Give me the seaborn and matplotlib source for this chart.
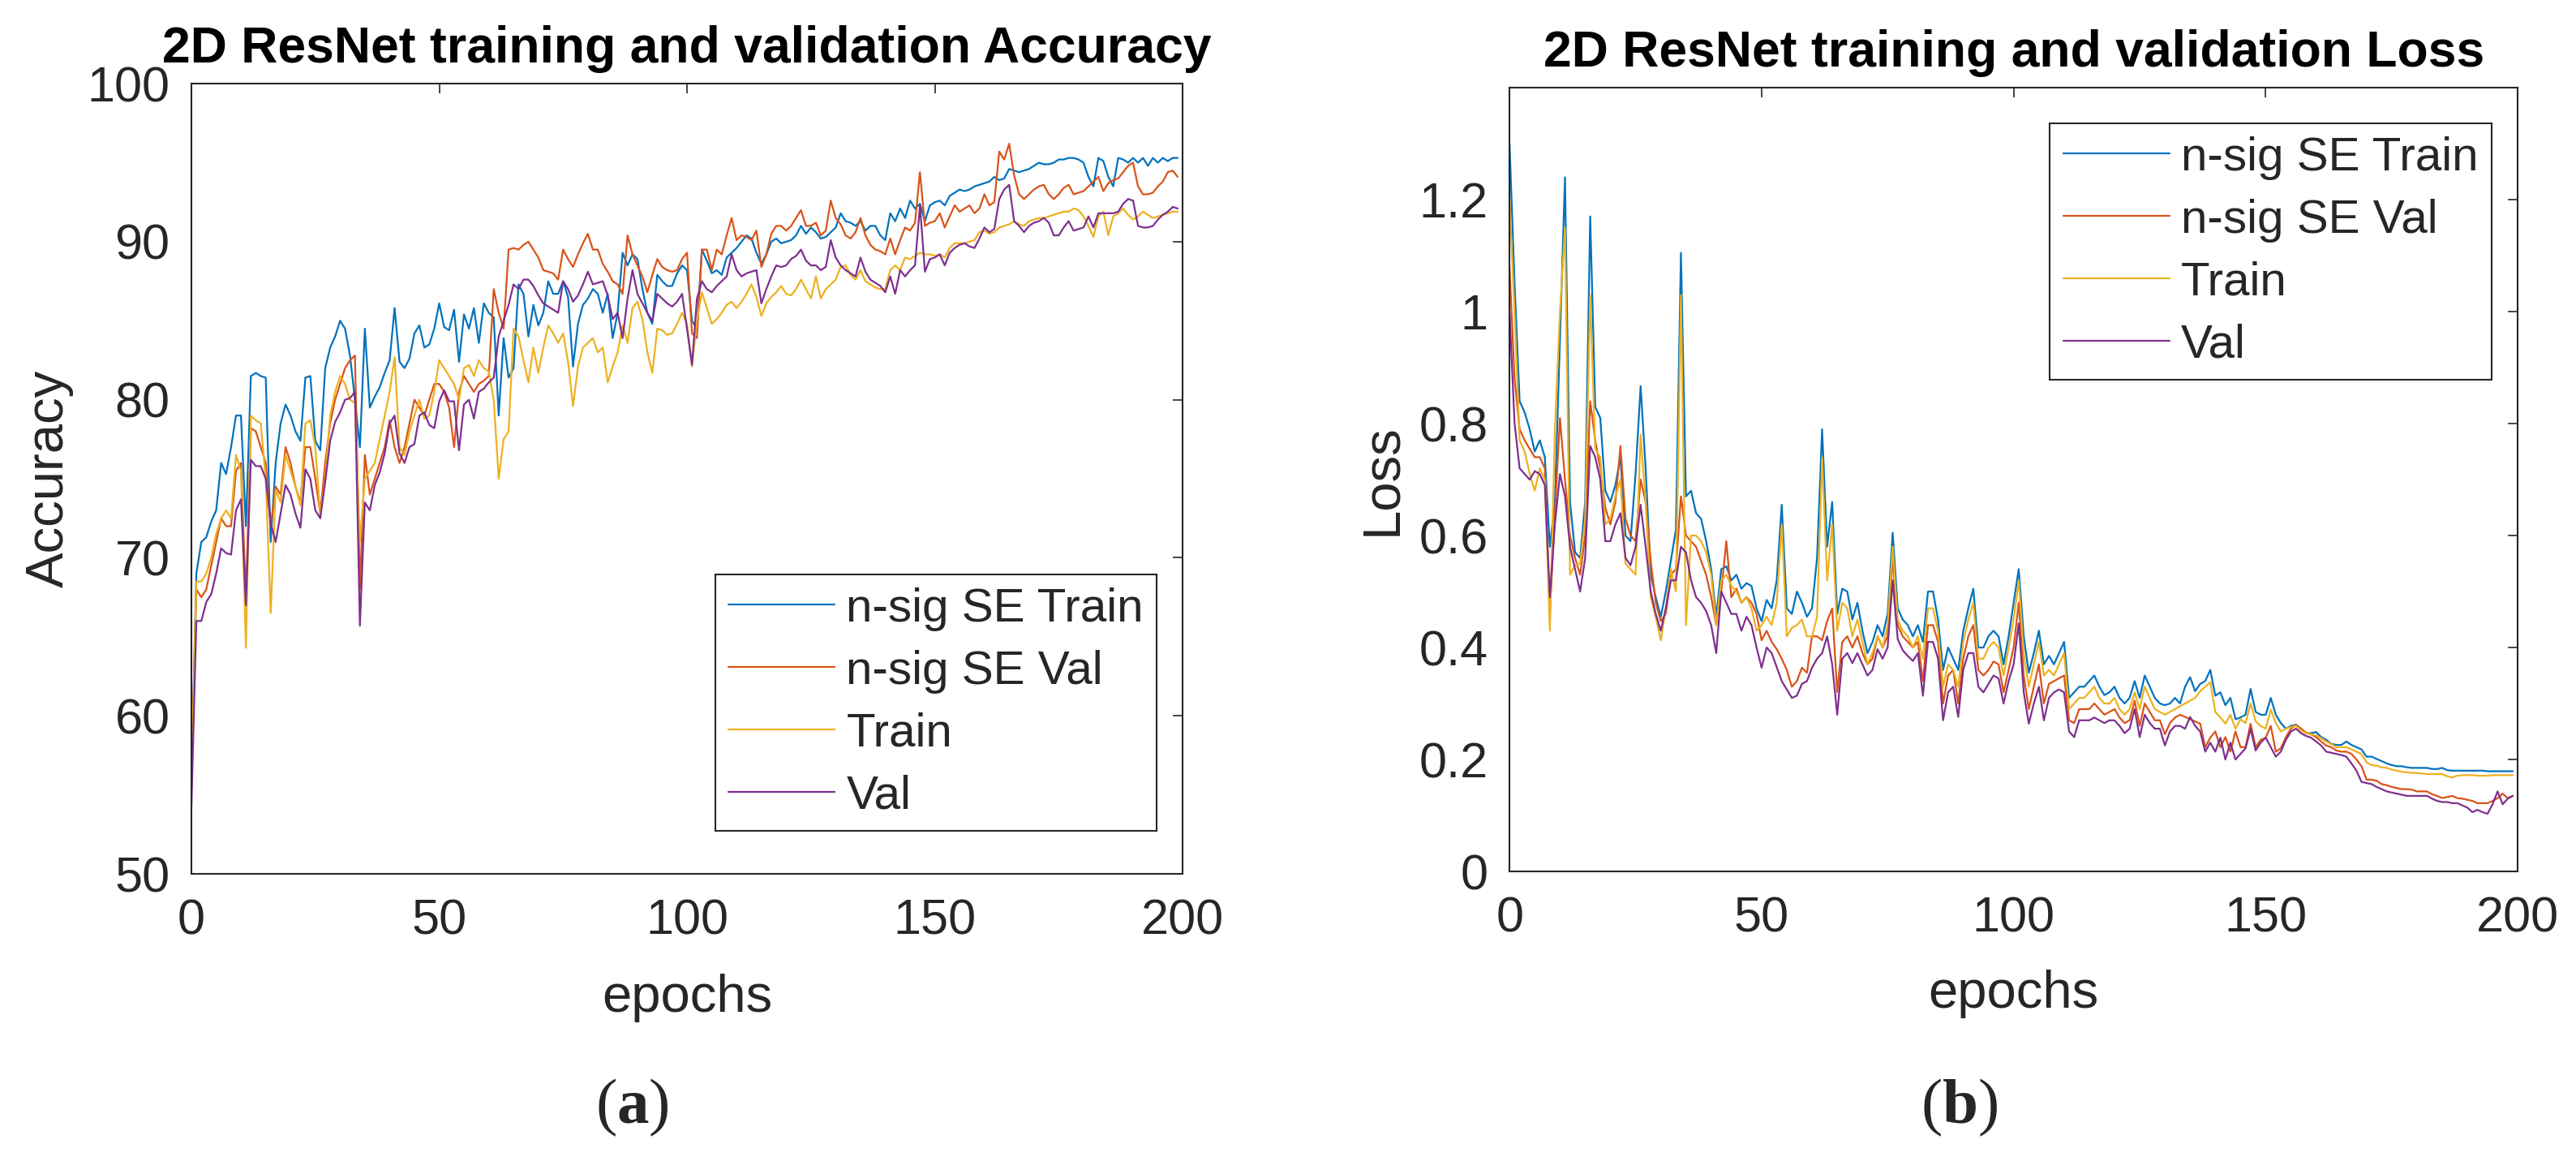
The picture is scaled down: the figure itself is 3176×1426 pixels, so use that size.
import numpy as np
import pandas as pd
import matplotlib
matplotlib.use("Agg")
import matplotlib.pyplot as plt
import seaborn as sns

series_names = ["n-sig SE Train", "n-sig SE Val", "Train", "Val"]
series_colors = ["#0072BD", "#D95319", "#EDB120", "#7E2F8E"]
epochs = np.arange(200)

# accuracy curves, one value per epoch
acc_nse_train = [
    56, 69, 71, 71.3, 72.3, 73, 76, 75.3, 77, 79,
    79, 72, 81.5, 81.7, 81.5, 81.4, 71, 76, 78.5, 79.7,
    79, 78, 77.4, 81.4, 81.5, 77.4, 76.8, 82, 83.3, 84,
    85, 84.5, 82.8, 80, 77, 84.5, 79.5, 80.2, 80.8, 81.7,
    82.5, 85.8, 82.4, 82, 82.6, 84.2, 84.7, 83.3, 83.5, 84.5,
    86.1, 84.6, 84.4, 85.7, 82.4, 85.4, 84.5, 85.8, 83.6, 86.1,
    85.5, 85.2, 79, 83.9, 81.4, 82, 87.3, 86.7, 84, 86,
    84.7, 85.5, 87.5, 86.7, 86.7, 87.5, 86.5, 82.1, 84.8, 86,
    86.4, 87, 86.7, 85.5, 86.7, 83.9, 85.5, 89.3, 88.5, 89.2,
    88.9, 87, 85.5, 84.8, 87.9, 87.5, 87.2, 87.2, 88, 88.5,
    88.2, 85, 84.5, 89.5, 88.8, 88, 88.2, 87.9, 89, 89.3,
    89.6, 90, 90.4, 90.2, 89.3, 88.6, 89.2, 90, 90.2, 89.9,
    90, 90.1, 90.4, 91, 90.5, 90.9, 90.6, 90.2, 90.3, 90.6,
    90.9, 91.8, 91.3, 91.2, 91, 91.3, 90.7, 91, 91, 90.4,
    90.1, 91.8, 91.3, 92.1, 91.5, 92.6, 92.1, 92.4, 91.3, 92.3,
    92.5, 92.6, 92.3, 92.9, 93.1, 93.3, 93.2, 93.3, 93.5, 93.6,
    93.7, 93.8, 94.1, 93.9, 94, 94.6, 94.5, 94.4, 94.5, 94.6,
    94.8, 95, 94.9, 94.9, 95, 95.2, 95.2, 95.3, 95.3, 95.2,
    95, 94.1, 93.5, 95.3, 95.1, 94.1, 93.5, 95.3, 95.2, 95,
    95.3, 95, 95.3, 94.8, 95.3, 95, 95.3, 95.1, 95.3, 95.3,
]
acc_nse_val = [
    55.5, 68, 67.5, 68, 69.5, 71, 72.5, 72, 72, 75.5,
    76, 67.5, 78.2, 78, 77, 76, 72, 74.5, 74, 77,
    76, 74.5, 73.5, 77, 77, 75, 72.8, 76, 78.5, 80,
    81, 82, 82.5, 82.8, 68, 76.5, 74, 75, 76, 77,
    78.7, 77, 76, 77, 78.5, 80, 79.5, 79, 80, 81,
    81, 80.5, 79.5, 77, 80.5, 81.5, 81, 80.5, 81, 81.2,
    81.5, 87, 85.5, 84.5, 89.5, 89.6, 89.5, 89.8, 90, 89.5,
    89, 88.2, 88.1, 88, 87.6, 89.5, 88.9, 88.4, 89.2, 89.9,
    90.5, 89.5, 89.5, 88.6, 88.1, 87.5, 87.3, 86.7, 90.4, 89.2,
    88.5, 87.8, 86.8, 87.9, 88.9, 88.4, 88.2, 88.1, 88.2, 88.9,
    89.3, 84.2, 83.9, 89.5, 89.5, 88.2, 89.5, 89.2, 90.4, 91.5,
    90.1, 90.4, 90.3, 90.1, 90.7, 88.4, 89.2, 90.5, 91, 91,
    90.7, 91, 91.5, 92, 91, 91, 91.2, 90.4, 90.7, 92.6,
    91.5, 91.1, 90.4, 90.2, 90.6, 91.5, 90.4, 89.8, 89.5, 89.4,
    89.2, 90.2, 89.2, 90.1, 90.9, 90.7, 91.2, 94.4, 91, 91.2,
    91.3, 91.8, 90.9, 91.6, 92.3, 91.9, 92.1, 92.3, 91.8, 92.1,
    93, 92.3, 92.5, 95.7, 95.2, 96.2, 94.2, 93, 92.7, 93,
    93.3, 93.5, 93.6, 93, 92.7, 93, 93.4, 93.6, 93, 93.1,
    93.2, 93.5, 93.8, 94.1, 93.2, 93.7, 93.9, 94, 94.4, 94.8,
    95, 93.5, 93, 93, 93.1, 93.5, 93.8, 94.4, 94.5, 94.1,
]
acc_train = [
    56, 68.5, 68.5, 69, 70, 71.5, 72.5, 73, 72.5, 76.5,
    75.5, 64.3, 79, 78.7, 78.5, 75, 66.5, 74.3, 73.5, 76.5,
    75.5, 74.5, 73.3, 78.5, 78.7, 77, 72.7, 75, 79, 80.5,
    81.5, 81, 80, 79.8, 71, 75, 75.5, 76, 77.5, 79,
    80.5, 82.7, 77, 76.5, 78, 79, 80, 78.8, 79, 80.5,
    82.5, 82, 81.5, 81, 80, 82, 82.2, 81.5, 82.5, 82,
    81.8, 80, 75, 77.5, 78, 84.5, 84, 82.5, 81.1, 83.3,
    81.7, 83.3, 84.7, 84.2, 83.6, 84.2, 82.4, 79.6, 82.1, 83.3,
    83.6, 83.9, 83, 83.3, 81.1, 82.1, 83, 84.7, 83.6, 85.8,
    86.2, 85.1, 83, 81.7, 84.5, 84.4, 84.1, 84.2, 84.8, 85.5,
    84.8, 82.1, 85, 86.8, 85.8, 84.8, 85.1, 85.5, 86, 86.2,
    85.8, 86.2, 86.7, 87.3, 86.5, 85.3, 86.1, 86.5, 86.8, 87.2,
    86.7, 86.6, 87, 87.6, 87, 86.4, 87.8, 86.4, 87, 87.3,
    87.6, 88.4, 88.5, 87.9, 87.6, 88.2, 87.5, 87.3, 87.1, 87,
    87, 88.2, 88.5, 88.2, 89, 88.9, 89.1, 89.3, 89.2, 89.2,
    89.1, 89.2, 89, 89.6, 89.9, 89.9, 89.9, 90, 90.1, 90.6,
    90.7, 90.5, 90.6, 90.9, 91, 91.1, 91.3, 91.1, 91, 91.3,
    91.4, 91.5, 91.5, 91.6, 91.7, 91.8, 91.9, 91.9, 92.1, 92,
    91.6, 91, 90.3, 91.6, 91.9, 90.4, 91.6, 91.8, 92.1, 91.7,
    91.4, 91.6, 91.9, 91.7, 91.5, 91.6, 91.7, 91.8, 91.9, 91.9,
]
acc_val = [
    54.2, 66, 66, 67.2, 67.7, 69, 70.6, 70.3, 70.2, 73,
    73.7, 67, 76.2, 75.8, 75.8, 75, 72.2, 71, 72.8, 74.6,
    74, 72.8, 71.9, 75.6, 75, 73, 72.5, 74.8, 77.4, 78.6,
    79.2, 80, 80.1, 80.5, 65.7, 73.5, 73, 74.6, 75.4, 76.6,
    78.5, 79, 76.6, 76, 77, 77.2, 79, 79.2, 78.4, 78.2,
    79.9, 80.6, 79.9, 79.9, 76.8, 79.7, 80, 78.8, 80.5, 80.7,
    81.1, 81.4, 84, 85, 86, 87.3, 87, 87.6, 87.6, 87.2,
    86.6, 86.1, 85.9, 85.7, 85.5, 87.5, 87, 86.2, 86.6, 87.3,
    88.1, 87.3, 87.4, 87.5, 86.6, 85.1, 85.5, 83.9, 86.4, 88.2,
    86.7, 86.1, 85.5, 85, 86.7, 86.4, 86.1, 85.9, 86.2, 86.7,
    84.5, 82.2, 86.4, 87.5, 87, 86.8, 87.2, 87.5, 87.8, 89.2,
    88.2, 87.8, 88, 88.1, 88.2, 86.1, 87, 87.8, 88.5, 88.4,
    88.5, 88.9, 89.1, 89.5, 88.8, 88.5, 88.5, 88.2, 88.4, 90.1,
    89, 88.5, 88.2, 88, 87.8, 89, 88.1, 87.6, 87.4, 87.2,
    86.8, 87.8, 86.7, 88.2, 87.8, 88.2, 88.5, 92.3, 88.1, 88.9,
    89, 89.2, 88.5, 89.3, 89.6, 89.8, 89.9, 89.7, 89.6, 90.2,
    90.9, 90.6, 90.8, 92.7, 93.3, 93.6, 91.3, 91, 90.6, 91,
    91.2, 91.3, 91.5, 91.2, 90.4, 90.4, 90.9, 91.3, 90.7, 90.8,
    90.9, 91.6, 90.9, 91.8, 91.8, 91.8, 91.8, 91.9, 92.4, 92.7,
    92.6, 91, 90.9, 90.9, 91, 91.4, 91.7, 91.9, 92.2, 92.1,
]

# loss curves
loss_nse_train = [
    1.30, 1.05, 0.84, 0.82, 0.79, 0.75, 0.77, 0.74, 0.58, 0.66,
    0.95, 1.24, 0.66, 0.57, 0.56, 0.66, 1.17, 0.83, 0.81, 0.68,
    0.66, 0.69, 0.74, 0.60, 0.59, 0.71, 0.867, 0.72, 0.53, 0.49,
    0.455, 0.50, 0.555, 0.61, 1.105, 0.67, 0.68, 0.64, 0.63, 0.59,
    0.54, 0.455, 0.54, 0.545, 0.52, 0.53, 0.505, 0.515, 0.51, 0.47,
    0.447, 0.485, 0.47, 0.52, 0.655, 0.47, 0.46, 0.50, 0.48, 0.455,
    0.47, 0.56, 0.79, 0.58, 0.66, 0.46, 0.505, 0.50, 0.45, 0.48,
    0.43, 0.39, 0.41, 0.44, 0.42, 0.46, 0.605, 0.47, 0.45, 0.44,
    0.42, 0.44, 0.41, 0.50, 0.50, 0.45, 0.36, 0.40, 0.38, 0.36,
    0.43, 0.47, 0.505, 0.40, 0.40, 0.42, 0.43, 0.42, 0.37, 0.42,
    0.48, 0.54, 0.42, 0.355, 0.39, 0.43, 0.37, 0.385, 0.37, 0.39,
    0.41, 0.31, 0.32, 0.33, 0.33, 0.34, 0.35, 0.33, 0.315, 0.32,
    0.33, 0.31, 0.30, 0.31, 0.34, 0.31, 0.35, 0.33, 0.31, 0.30,
    0.297, 0.30, 0.31, 0.30, 0.33, 0.347, 0.322, 0.335, 0.34, 0.36,
    0.314, 0.32, 0.297, 0.31, 0.272, 0.275, 0.28, 0.326, 0.285, 0.28,
    0.28, 0.31, 0.28, 0.265, 0.255, 0.26, 0.262, 0.255, 0.247, 0.247,
    0.249, 0.24, 0.235, 0.228, 0.226, 0.226, 0.232, 0.226, 0.222, 0.218,
    0.205, 0.205, 0.201, 0.197, 0.193, 0.19, 0.188, 0.188, 0.186, 0.185,
    0.185, 0.185, 0.185, 0.183, 0.183, 0.185, 0.181, 0.18, 0.18, 0.18,
    0.18, 0.18, 0.18, 0.18, 0.179, 0.179, 0.179, 0.179, 0.179, 0.179,
]
loss_nse_val = [
    1.08, 0.88, 0.79, 0.77, 0.755, 0.74, 0.74, 0.72, 0.46, 0.64,
    0.81, 0.70, 0.60, 0.56, 0.53, 0.60, 0.84, 0.77, 0.72, 0.65,
    0.62, 0.66, 0.76, 0.63, 0.60, 0.59, 0.70, 0.66, 0.555, 0.48,
    0.447, 0.46, 0.53, 0.54, 0.67, 0.60, 0.59, 0.58, 0.555, 0.53,
    0.49, 0.44, 0.50, 0.59, 0.49, 0.505, 0.48, 0.49, 0.48, 0.46,
    0.413, 0.43, 0.41, 0.397, 0.38, 0.36, 0.33, 0.34, 0.364, 0.355,
    0.42, 0.42, 0.413, 0.447, 0.47, 0.32, 0.41, 0.42, 0.40, 0.42,
    0.39, 0.37, 0.38, 0.42, 0.40, 0.42, 0.56, 0.44, 0.42, 0.41,
    0.40, 0.41, 0.34, 0.44, 0.44, 0.41, 0.30, 0.35, 0.36, 0.30,
    0.38, 0.42, 0.44, 0.36, 0.35, 0.36, 0.375, 0.37, 0.32, 0.36,
    0.40, 0.48, 0.35, 0.29, 0.33, 0.37, 0.30, 0.335, 0.34, 0.345,
    0.35, 0.27, 0.265, 0.29, 0.29, 0.29, 0.30, 0.29, 0.28, 0.285,
    0.29, 0.275, 0.265, 0.27, 0.305, 0.26, 0.30, 0.285, 0.27, 0.27,
    0.245, 0.265, 0.275, 0.28, 0.276, 0.272, 0.268, 0.264, 0.222, 0.239,
    0.25, 0.222, 0.24, 0.214, 0.25, 0.222, 0.222, 0.264, 0.222, 0.235,
    0.239, 0.26, 0.214, 0.22, 0.24, 0.255, 0.262, 0.255, 0.248, 0.245,
    0.24, 0.232, 0.225, 0.222, 0.216, 0.214, 0.214, 0.21, 0.2, 0.188,
    0.164, 0.164, 0.162, 0.156, 0.154, 0.151, 0.149, 0.147, 0.147, 0.146,
    0.143, 0.143, 0.143, 0.138, 0.135, 0.131, 0.133, 0.135, 0.131, 0.13,
    0.128, 0.126, 0.122, 0.122, 0.122, 0.126, 0.131, 0.139, 0.131, 0.135,
]
loss_train = [
    1.20, 1.00, 0.77, 0.75, 0.71, 0.68, 0.72, 0.70, 0.43, 0.79,
    1.00, 1.15, 0.53, 0.547, 0.55, 0.63, 1.03, 0.755, 0.74, 0.62,
    0.63, 0.67, 0.70, 0.55, 0.54, 0.53, 0.78, 0.66, 0.49, 0.455,
    0.413, 0.47, 0.54, 0.50, 1.03, 0.44, 0.60, 0.60, 0.59, 0.57,
    0.53, 0.44, 0.52, 0.53, 0.51, 0.50, 0.48, 0.49, 0.47, 0.43,
    0.44, 0.455, 0.44, 0.48, 0.62, 0.42, 0.435, 0.44, 0.45, 0.42,
    0.42, 0.455, 0.74, 0.52, 0.62, 0.43, 0.48, 0.47, 0.42, 0.45,
    0.41, 0.37, 0.39, 0.42, 0.40, 0.44, 0.58, 0.45, 0.43, 0.42,
    0.40, 0.42, 0.38, 0.47, 0.47, 0.43, 0.33, 0.37, 0.36, 0.33,
    0.41, 0.45, 0.48, 0.38, 0.38, 0.40, 0.41, 0.40, 0.35, 0.40,
    0.45, 0.52, 0.39, 0.33, 0.37, 0.41, 0.35, 0.36, 0.35, 0.37,
    0.39, 0.29, 0.30, 0.31, 0.31, 0.32, 0.33, 0.31, 0.30, 0.30,
    0.31, 0.29, 0.28, 0.29, 0.32, 0.29, 0.33, 0.31, 0.29, 0.285,
    0.28, 0.285, 0.29, 0.295, 0.30, 0.305, 0.31, 0.322, 0.33, 0.338,
    0.285, 0.275, 0.264, 0.28, 0.255, 0.272, 0.265, 0.30, 0.268, 0.26,
    0.255, 0.289, 0.265, 0.25, 0.255, 0.258, 0.26, 0.252, 0.247, 0.245,
    0.243, 0.238, 0.232, 0.228, 0.222, 0.222, 0.222, 0.218, 0.214, 0.21,
    0.195, 0.19, 0.189, 0.186, 0.185, 0.182, 0.18, 0.178, 0.177, 0.176,
    0.176, 0.175, 0.174, 0.174, 0.174, 0.174, 0.17, 0.168, 0.171, 0.172,
    0.172, 0.172, 0.171, 0.171, 0.171, 0.172, 0.172, 0.172, 0.172, 0.172,
]
loss_val = [
    1.00, 0.80, 0.72, 0.71, 0.70, 0.715, 0.71, 0.69, 0.49, 0.62,
    0.71, 0.67, 0.58, 0.54, 0.50, 0.56, 0.76, 0.74, 0.70, 0.59,
    0.59, 0.62, 0.64, 0.56, 0.547, 0.58, 0.655, 0.58, 0.50, 0.46,
    0.43, 0.47, 0.52, 0.52, 0.58, 0.57, 0.52, 0.49, 0.48, 0.465,
    0.44, 0.39, 0.50, 0.48, 0.46, 0.46, 0.43, 0.455, 0.44, 0.40,
    0.364, 0.40, 0.39, 0.365, 0.34, 0.325, 0.31, 0.314, 0.335, 0.34,
    0.364, 0.38, 0.39, 0.42, 0.37, 0.28, 0.38, 0.39, 0.372, 0.39,
    0.37, 0.35, 0.36, 0.397, 0.38, 0.40, 0.52, 0.415, 0.395, 0.385,
    0.376, 0.39, 0.314, 0.41, 0.41, 0.38, 0.27, 0.32, 0.33, 0.276,
    0.36, 0.39, 0.39, 0.33, 0.32, 0.335, 0.35, 0.345, 0.30, 0.34,
    0.37, 0.443, 0.32, 0.264, 0.30, 0.33, 0.27, 0.31, 0.32, 0.325,
    0.32, 0.25, 0.24, 0.27, 0.27, 0.27, 0.275, 0.27, 0.265, 0.27,
    0.27, 0.26, 0.247, 0.255, 0.29, 0.24, 0.28, 0.265, 0.255, 0.255,
    0.225, 0.25, 0.26, 0.26, 0.255, 0.276, 0.26, 0.25, 0.214, 0.23,
    0.214, 0.239, 0.2, 0.23, 0.2, 0.21, 0.22, 0.255, 0.216, 0.23,
    0.239, 0.222, 0.205, 0.214, 0.235, 0.25, 0.255, 0.247, 0.242, 0.239,
    0.232, 0.225, 0.214, 0.212, 0.21, 0.208, 0.205, 0.193, 0.18, 0.16,
    0.158, 0.156, 0.151, 0.147, 0.143, 0.141, 0.139, 0.137, 0.135, 0.135,
    0.135, 0.135, 0.135, 0.13, 0.126, 0.124, 0.124, 0.122, 0.122, 0.118,
    0.114, 0.106, 0.11, 0.106, 0.103, 0.12, 0.143, 0.12, 0.13, 0.135,
]

acc_yticks = [50, 60, 70, 80, 90, 100]
loss_yticks = [0, 0.2, 0.4, 0.6, 0.8, 1.0, 1.2]
loss_ytick_labels = ["0", "0.2", "0.4", "0.6", "0.8", "1", "1.2"]
epoch_ticks = [0, 50, 100, 150, 200]

sns.set_style("white")
plt.rcParams["font.family"] = ["Liberation Sans", "DejaVu Sans"]
plt.rcParams["mathtext.fontset"] = "custom"
plt.rcParams["mathtext.rm"] = "Liberation Serif"
plt.rcParams["mathtext.bf"] = "Liberation Serif:bold"

INK = "#262626"


def long_frame(columns):
    parts = []
    for name, vals in zip(series_names, columns):
        parts.append(pd.DataFrame({"epoch": epochs, "value": vals, "series": name}))
    return pd.concat(parts, ignore_index=True)


def draw_panel(ax, df, title, ylabel):
    sns.lineplot(data=df, x="epoch", y="value", hue="series",
                 hue_order=series_names, palette=series_colors,
                 linewidth=1.6, errorbar=None, legend=False, ax=ax)
    ax.set_xlim(0, 200)
    ax.set_xticks(epoch_ticks)
    ax.set_title(title, fontsize=45, fontweight="bold", pad=19, color="black")
    ax.set_xlabel("epochs", fontsize=47, color=INK)
    ax.set_ylabel(ylabel, fontsize=47, color=INK)
    ax.tick_params(direction="in", length=8.6, width=1.2, top=True, right=True,
                   labelsize=44, colors=INK)
    ax.tick_params(axis="x", pad=22)
    ax.tick_params(axis="y", pad=19)
    for sp in ax.spines.values():
        sp.set_color(INK)
        sp.set_linewidth(1.5)
    ax.grid(False)


fig = plt.figure(figsize=(31.76, 14.26), dpi=100)
ax_acc = fig.add_axes([0.0743, 0.2447, 0.3848, 0.6830])
ax_loss = fig.add_axes([0.5860, 0.2468, 0.3914, 0.6774])

acc_df = long_frame([acc_nse_train, acc_nse_val, acc_train, acc_val])
loss_df = long_frame([loss_nse_train, loss_nse_val, loss_train, loss_val])

draw_panel(ax_acc, acc_df, "2D ResNet training and validation Accuracy", "Accuracy")
ax_acc.set_ylim(50, 100)
ax_acc.set_yticks(acc_yticks)
ax_acc.xaxis.set_label_coords(0.5, -0.126)
ax_acc.yaxis.set_label_coords(-0.119, 0.5)

draw_panel(ax_loss, loss_df, "2D ResNet training and validation Loss", "Loss")
ax_loss.set_ylim(0, 1.4)
ax_loss.set_yticks(loss_yticks)
ax_loss.set_yticklabels(loss_ytick_labels)
ax_loss.xaxis.set_label_coords(0.5, -0.125)
ax_loss.yaxis.set_label_coords(-0.102, 0.5)

legend_kw = dict(fontsize=42, frameon=True, fancybox=False, framealpha=1,
                 edgecolor=INK, borderpad=0.28, handlelength=2.25,
                 handletextpad=0.24, labelspacing=0.39, borderaxespad=0)
leg = ax_acc.legend(ax_acc.get_lines()[:4], series_names, loc="lower right",
                    bbox_to_anchor=(0.974, 0.054), **legend_kw)
leg.get_frame().set_linewidth(1.5)
leg = ax_loss.legend(ax_loss.get_lines()[:4], series_names, loc="upper right",
                     bbox_to_anchor=(0.974, 0.955), **legend_kw)
leg.get_frame().set_linewidth(1.5)

fig.text(779 / 3176, 1 - 1365 / 1426, r"$(\mathbf{a})$", ha="center", va="center", fontsize=57)
fig.text(2416 / 3176, 1 - 1365 / 1426, r"$(\mathbf{b})$", ha="center", va="center", fontsize=57)

fig.savefig("out.png", dpi=100)
